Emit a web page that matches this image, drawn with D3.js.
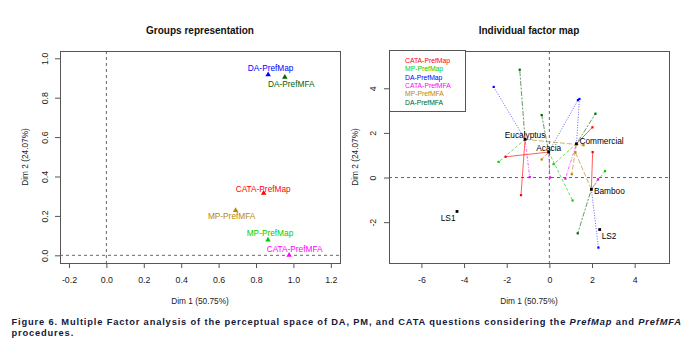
<!DOCTYPE html>
<html><head><meta charset="utf-8">
<script src="https://cdn.jsdelivr.net/npm/d3@7"></script>
<style>
body{margin:0;background:#fff;}
svg{display:block;font-family:"Liberation Sans",Arial,Helvetica,sans-serif;}
</style>
</head><body>
<svg id="c" width="697" height="348"></svg>
<script>
// ---------------- DATA ----------------
const groups = ["CATA-PrefMap","MP-PrefMap","DA-PrefMap","CATA-PrefMFA","MP-PrefMFA","DA-PrefMFA"];
const groupColors = ["#FF0000","#00CD00","#0000FF","#FF00FF","#B8860B","#006400"];
const groupDim1 = [0.841, 0.864, 0.865, 0.977, 0.691, 0.954];
const groupDim2 = [0.318, 0.081, 0.919, 0.003, 0.231, 0.907];

const products = ["Eucalyptus","Acacia","Commercial","Bamboo","LS1","LS2"];
const prodDim1 = [-1.14, -0.03, 1.27, 1.97, -4.33, 2.36];
const prodDim2 = [1.71, 1.14, 1.51, -0.53, -1.52, -2.33];

// partial points: rows = groups, columns = partialProducts
const partialProducts = ["Eucalyptus","Acacia","Commercial","Bamboo"];
const partialDim1 = [
  [-1.33, -2.05, 2.02, 2.03],
  [-2.38,  1.09, 0.20, 2.61],
  [-2.61,  1.34, 1.41, 2.30],
  [-0.92,  0.03, 0.75, 2.28],
  [ 1.60, -0.36, 1.05, 1.22],
  [-1.39, -0.36, 2.16, 1.33]
];
const partialDim2 = [
  [-0.79, 0.93,  2.25,  1.14],
  [ 0.70,-1.03,  0.60,  0.29],
  [ 4.06, 3.47,  3.52, -3.14],
  [ 0.02, 0.00, -0.05, -0.08],
  [ 1.45, 0.81,  0.15,  1.13],
  [ 4.83, 2.80,  2.86, -2.50]
];

const groupTicksX = [-0.2, 0, 0.2, 0.4, 0.6, 0.8, 1.0, 1.2];
const groupTicksY = [0, 0.2, 0.4, 0.6, 0.8, 1.0];
const indTicksX = [-6, -4, -2, 0, 2, 4];
const indTicksY = [-2, 0, 2, 4];

const leftTitle = "Groups representation";
const rightTitle = "Individual factor map";
const xLabel = "Dim 1 (50.75%)";
const yLabel = "Dim 2 (24.07%)";

// ---------------- DRAW ----------------
const svg = d3.select("#c");
const boxStroke = "#555";
const textCol = "#222";

function panel(cfg){
  const g = svg.append("g");
  const x = d3.scaleLinear().domain(cfg.xd).range([cfg.x0, cfg.x1]);
  const y = d3.scaleLinear().domain(cfg.yd).range([cfg.y1, cfg.y0]);
  g.append("line").attr("x1", cfg.x0).attr("x2", cfg.x1).attr("y1", y(0)).attr("y2", y(0))
    .attr("stroke", "#555").attr("stroke-width", 0.9).attr("stroke-dasharray", "3,3");
  g.append("line").attr("x1", x(0)).attr("x2", x(0)).attr("y1", cfg.y0).attr("y2", cfg.y1)
    .attr("stroke", "#555").attr("stroke-width", 0.9).attr("stroke-dasharray", "3,3");
  const ax = g.append("g").attr("transform", `translate(0,${cfg.y1})`)
    .call(d3.axisBottom(x).tickValues(cfg.tx).tickSize(5).tickSizeOuter(0).tickFormat(cfg.fmt));
  ax.select(".domain").remove();
  ax.selectAll("line").attr("stroke", boxStroke);
  ax.selectAll("text").attr("y", 17).attr("dy", "0.35em").attr("fill", textCol)
    .style("font-size", "8.8px").style("font-family", "Liberation Sans, Arial, sans-serif");
  const ay = g.append("g").attr("transform", `translate(${cfg.x0},0)`)
    .call(d3.axisLeft(y).tickValues(cfg.ty).tickSize(5).tickSizeOuter(0).tickFormat(cfg.fmt));
  ay.select(".domain").remove();
  ay.selectAll("line").attr("stroke", boxStroke);
  ay.selectAll("text").attr("x", null).attr("dy", null)
    .attr("transform", `translate(${cfg.ylabOff},0) rotate(-90)`)
    .attr("text-anchor", "middle").attr("dominant-baseline", "central").attr("fill", textCol)
    .style("font-size", "8.8px").style("font-family", "Liberation Sans, Arial, sans-serif");
  g.append("rect").attr("x", cfg.x0 + 0.5).attr("y", cfg.y0 + 0.5)
    .attr("width", cfg.x1 - cfg.x0).attr("height", cfg.y1 - cfg.y0)
    .attr("fill", "none").attr("stroke", boxStroke).attr("stroke-width", 1);
  const cx = (cfg.x0 + cfg.x1) / 2;
  g.append("text").attr("x", cx).attr("y", 30).attr("dominant-baseline", "central")
    .attr("text-anchor", "middle").attr("font-weight", "bold").attr("font-size", 10)
    .attr("fill", "#111").text(cfg.title);
  g.append("text").attr("x", cx).attr("y", 301).attr("dominant-baseline", "central")
    .attr("text-anchor", "middle").attr("font-size", 8.3).attr("fill", textCol).text(xLabel);
  g.append("text").attr("transform", `translate(${cfg.yTitleX},${(cfg.y0 + cfg.y1) / 2}) rotate(-90)`)
    .attr("dominant-baseline", "central").attr("text-anchor", "middle")
    .attr("font-size", 8.3).attr("fill", textCol).text(yLabel);
  return {g, x, y};
}

// ---- Left panel ----
const L = panel({x0: 60, x1: 340, y0: 51, y1: 263,
  xd: [-0.248, 1.249], yd: [-0.039, 1.037],
  tx: groupTicksX, ty: groupTicksY, fmt: d => d.toFixed(1),
  ylabOff: -15, yTitleX: 25, title: leftTitle});

const leftLabelOffsets = {
  "DA-PrefMap": [2.5, -6.5], "DA-PrefMFA": [6.5, 7.5], "CATA-PrefMap": [-0.5, -4],
  "MP-PrefMFA": [-4, 6.5], "MP-PrefMap": [2, -6], "CATA-PrefMFA": [5.5, -6]
};
const tri = d3.symbol().type(d3.symbolTriangle).size(13);
groups.forEach((gname, i) => {
  const px = L.x(groupDim1[i]), py = L.y(groupDim2[i]);
  const off = leftLabelOffsets[gname];
  L.g.append("text").attr("x", px + off[0]).attr("y", py + off[1])
    .attr("text-anchor", "middle").attr("dominant-baseline", "central")
    .attr("font-size", 8.3).attr("fill", groupColors[i]).text(gname);
  L.g.append("path").attr("d", tri).attr("transform", `translate(${px},${py + 0.5})`)
    .attr("fill", groupColors[i]);
});

// ---- Right panel ----
const R = panel({x0: 389, x1: 669, y0: 51, y1: 263,
  xd: [-7.52, 5.61], yd: [-3.83, 5.67],
  tx: indTicksX, ty: indTicksY, fmt: d => String(d),
  ylabOff: -16, yTitleX: 355, title: rightTitle});

const dashes = ["none", "3,2", "1,1.6", "1,1.5,3,1.5", "5,2", "2,1.5,5,1.5"];
groups.forEach((gname, i) => {
  partialProducts.forEach((p, j) => {
    const k = products.indexOf(p);
    R.g.append("line")
      .attr("x1", R.x(prodDim1[k])).attr("y1", R.y(prodDim2[k]))
      .attr("x2", R.x(partialDim1[i][j])).attr("y2", R.y(partialDim2[i][j]))
      .attr("stroke", groupColors[i]).attr("stroke-width", 0.9).attr("stroke-opacity", 0.7)
      .attr("stroke-dasharray", dashes[i]);
  });
});
groups.forEach((gname, i) => {
  partialProducts.forEach((p, j) => {
    R.g.append("rect")
      .attr("x", R.x(partialDim1[i][j]) - 1.1).attr("y", R.y(partialDim2[i][j]) - 1.1)
      .attr("width", 2.2).attr("height", 2.2).attr("fill", groupColors[i]);
  });
});
const prodLabelPos = {
  "Eucalyptus": ["middle", 0, -4.3], "Acacia": ["middle", 0, -4],
  "Commercial": ["start", 3, -3.3], "Bamboo": ["start", 2.5, 1.6],
  "LS1": ["end", -1.5, 6.4], "LS2": ["start", 2, 6]
};
products.forEach((p, k) => {
  const px = R.x(prodDim1[k]), py = R.y(prodDim2[k]);
  R.g.append("rect").attr("x", px - 1.4).attr("y", py - 1.4).attr("width", 2.8).attr("height", 2.8)
    .attr("fill", "#000");
  const pos = prodLabelPos[p];
  R.g.append("text").attr("x", px + pos[1]).attr("y", py + pos[2])
    .attr("text-anchor", pos[0]).attr("dominant-baseline", "central")
    .attr("font-size", 8.3).attr("fill", "#000").text(p);
});

// legend
const lg = R.g.append("g");
lg.append("rect").attr("x", 389.5).attr("y", 50.5).attr("width", 76).attr("height", 61)
  .attr("fill", "#fff").attr("stroke", boxStroke).attr("stroke-width", 1);
groups.forEach((gname, i) => {
  lg.append("text").attr("x", 405).attr("y", 60.3 + i * 8.35)
    .attr("dominant-baseline", "central").attr("font-size", 6.8)
    .attr("fill", groupColors[i]).text(gname);
});

// caption
const capCol = "#14183a";
const cap1 = svg.append("text").attr("x", 11.5).attr("y", 324.5)
  .attr("font-weight", "bold").attr("font-size", 9.3).attr("fill", capCol);
cap1.append("tspan").text("Figure 6. Multiple Factor analysis of the perceptual space of DA, PM, and CATA questions considering the ");
cap1.append("tspan").attr("font-style", "italic").text("PrefMap");
cap1.append("tspan").text(" and ");
cap1.append("tspan").attr("font-style", "italic").text("PrefMFA");
const cap2 = svg.append("text").attr("x", 11.5).attr("y", 335.8)
  .attr("font-weight", "bold").attr("font-size", 9.3).attr("fill", capCol).text("procedures.");
const natural = cap1.node().getComputedTextLength();
const nChars = cap1.text().length;
const ls = Math.max(0, (669.5 - natural) / (nChars - 1));
cap1.attr("letter-spacing", ls);
cap2.attr("letter-spacing", ls);
</script>
</body></html>
